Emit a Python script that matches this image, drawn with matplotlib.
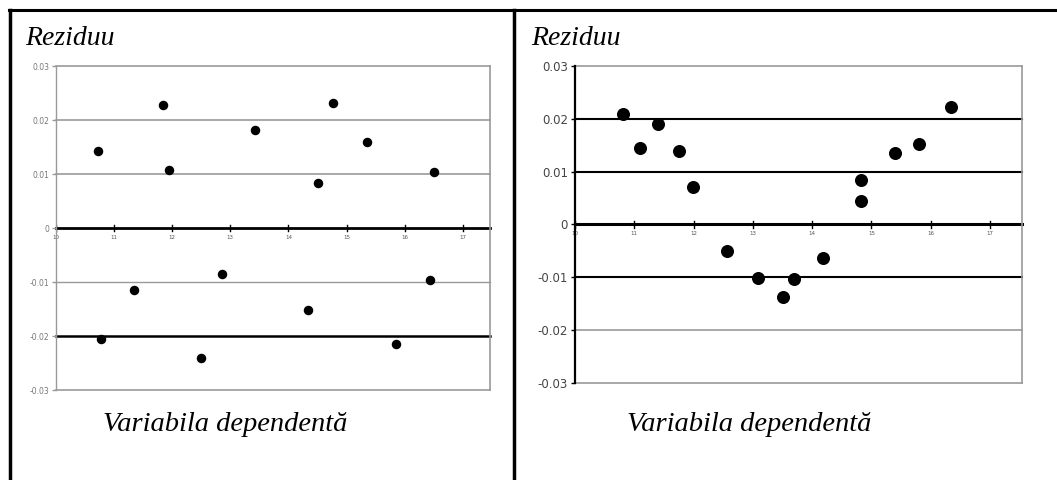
import matplotlib
matplotlib.use("Agg")
import matplotlib.pyplot as plt
from matplotlib.lines import Line2D

# Residuals, left panel (random pattern).
left_x = [10.72, 10.78, 11.35, 11.84, 11.94, 12.50, 12.86, 13.43,
          14.34, 14.51, 14.77, 15.36, 15.85, 16.44, 16.51]
left_y = [0.0142, -0.0205, -0.0115, 0.0228, 0.0108, -0.0241, -0.0086, 0.0181,
          -0.0152, 0.0083, 0.0231, 0.0160, -0.0215, -0.0096, 0.0104]

# Residuals, right panel (curved pattern).
right_x = [10.81, 11.10, 11.40, 11.75, 11.99, 12.56, 13.08, 13.50,
           13.70, 14.19, 14.82, 14.82, 15.40, 15.80, 16.34]
right_y = [0.0209, 0.0144, 0.0190, 0.0139, 0.0071, -0.0051, -0.0101, -0.0138,
           -0.0103, -0.0064, 0.0084, 0.0044, 0.0135, 0.0152, 0.0222]

x_ticks = [10, 11, 12, 13, 14, 15, 16, 17]
y_ticks = [-0.03, -0.02, -0.01, 0, 0.01, 0.02, 0.03]
y_tick_labels = ["-0.03", "-0.02", "-0.01", "0", "0.01", "0.02", "0.03"]

title_text = "Reziduu"
xlabel_text = "Variabila dependentă"

fig = plt.figure(figsize=(10.57, 4.8), dpi=100)
fig.patch.set_facecolor("white")

# Panel borders (top, left and the middle separator).
fig.add_artist(Line2D([9 / 1057, 1], [0.979, 0.979], color="black", lw=2.2,
                      transform=fig.transFigure))
fig.add_artist(Line2D([10 / 1057, 10 / 1057], [0, 0.979], color="black", lw=2.5,
                      transform=fig.transFigure))
fig.add_artist(Line2D([514 / 1057, 514 / 1057], [0, 0.979], color="black", lw=2.5,
                      transform=fig.transFigure))

text_font = dict(family="Liberation Serif", style="italic", color="black")


def draw_panel(rect, xs, ys, xmax, msize, grid_styles, left_color, ylab_size, ylab_color):
    ax = fig.add_axes(rect)
    ax.set_xlim(10, xmax)
    ax.set_ylim(-0.03, 0.03)

    # Horizontal gridlines, each with its own look.
    for level, (col, lw) in zip(y_ticks, grid_styles):
        ax.axhline(level, color=col, lw=lw, zorder=1, clip_on=False)

    ax.scatter(xs, ys, s=msize, color="black", zorder=3)

    for side in ["top", "bottom"]:
        ax.spines[side].set_visible(False)
    ax.spines["right"].set_color("#999999")
    ax.spines["right"].set_linewidth(1.2)
    ax.spines["left"].set_color(left_color)
    ax.spines["left"].set_linewidth(1.6 if left_color == "black" else 1.0)
    ax.spines["left"].set_zorder(4)

    ax.set_yticks(y_ticks)
    ax.set_yticklabels(y_tick_labels)
    ax.tick_params(axis="y", length=3, width=1, color=left_color, labelsize=ylab_size,
                   labelcolor=ylab_color, pad=2)

    # x ticks sit on the zero line
    ax.set_xticks([])
    for t in x_ticks:
        ax.plot([t, t], [-0.0006, 0.0006], color="black", lw=1, zorder=2)
        ax.text(t, -0.0017, str(t), fontsize=4, color="#555555", ha="center",
                va="center", zorder=2)
    return ax


ax1 = draw_panel([0.053, 0.1875, 0.4106, 0.675], left_x, left_y, 17.47, 34,
                 [("#999999", 1.2), ("black", 1.8), ("#999999", 1.0), ("black", 2.0),
                  ("#999999", 1.2), ("#999999", 1.2), ("#999999", 1.2)],
                 "#999999", 5.5, "#777777")

ax2 = draw_panel([0.544, 0.2021, 0.4229, 0.6604], right_x, right_y, 17.54, 70,
                 [("#999999", 1.2), ("#999999", 1.2), ("black", 1.5), ("black", 2.2),
                  ("black", 1.5), ("black", 1.5), ("#999999", 1.2)],
                 "black", 8.5, "#444444")

fig.text(25 / 1057, 1 - 45 / 480, title_text, fontsize=20, **text_font)
fig.text(531 / 1057, 1 - 45 / 480, title_text, fontsize=20, **text_font)
fig.text(103 / 1057, 1 - 431 / 480, xlabel_text, fontsize=20.5, **text_font)
fig.text(627 / 1057, 1 - 431 / 480, xlabel_text, fontsize=20.5, **text_font)

fig.savefig("out.png", dpi=100)
